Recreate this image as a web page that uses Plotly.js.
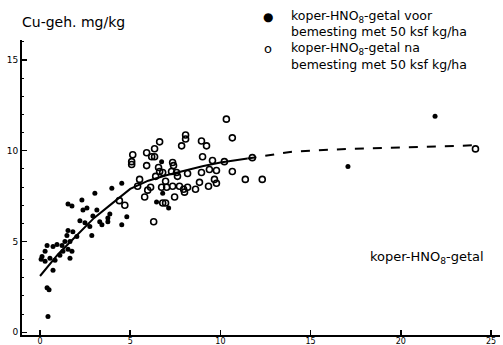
<!DOCTYPE html>
<html><head><meta charset="utf-8">
<script src="https://cdn.plot.ly/plotly-3.0.1.min.js"></script>
<style>html,body{margin:0;padding:0;background:#fff}</style>
</head><body><div id="chart" style="width:503px;height:345px"></div>
<script>
// filled dots: koper-HNO3-getal voor bemesting
const voorX = [2.21,2.49,3.31,3.76,4.53,1.55,1.82,1.49,2.04,2.87,1.38,1.66,0.39,0.72,0.94,1.22,0.28,0.11,0.06,0.28,0.55,0.83,1.10,1.27,1.55,1.77,1.66,0.72,0.39,0.50,0.44,
  1.55,1.77,2.32,3.04,3.98,4.53,2.38,2.60,3.15,3.87,3.76,4.81,2.93,3.43,2.76,
  6.74,6.46,7.13,6.80,17.07,21.9];
const voorY = [6.14,6.03,6.09,6.09,5.92,5.60,5.54,5.33,5.27,5.33,5.00,5.00,4.78,4.73,4.84,4.78,4.46,4.18,4.02,3.91,4.08,3.97,4.24,4.46,4.57,4.46,4.08,3.42,2.45,2.34,0.87,
  7.07,6.96,7.28,7.66,7.93,8.21,6.74,6.85,6.74,6.52,6.30,6.36,6.41,5.92,5.82,
  9.40,7.17,6.85,7.66,9.13,11.9];
// open circles: koper-HNO3-getal na bemesting
const naX = [10.33,10.66,8.07,8.07,7.85,8.95,9.23,6.63,6.35,5.91,6.19,6.35,5.14,5.08,5.08,5.91,7.35,7.40,9.01,9.56,10.22,9.39,9.78,10.66,8.95,8.18,7.57,7.29,7.62,6.57,6.63,6.80,6.41,5.52,5.41,6.13,5.97,5.80,6.74,6.96,7.02,7.35,7.73,7.96,8.01,8.18,8.62,8.84,9.34,9.67,9.78,7.46,6.80,6.96,6.30,11.38,12.32,11.77,24.14,4.4,4.7];
const naY = [11.74,10.71,10.87,10.65,10.27,10.54,10.27,10.49,10.11,9.89,9.67,9.67,9.78,9.40,9.24,9.18,9.35,9.18,9.67,9.46,9.40,8.97,8.91,8.86,8.80,8.75,8.80,8.86,8.59,9.08,8.86,8.80,8.59,8.42,8.04,7.99,7.83,7.45,7.99,8.32,7.99,8.04,8.04,7.88,7.72,7.99,7.88,8.26,8.04,8.42,8.21,7.45,7.12,7.12,6.09,8.42,8.42,9.62,10.1,7.25,7.0];
// fitted curve (solid part, then dashed extrapolation)
const curveX = [0,1,2,3,4,5,6,7,8,9,10,11,11.5];
const curveY = [3.1,4.3,5.3,6.3,7.1,7.9,8.35,8.65,8.9,9.15,9.35,9.5,9.57];
const dashX = [11.5,14,17,20,24.1];
const dashY = [9.57,9.95,10.1,10.2,10.3];
const xTicks = [0,5,10,15,20,25];
const yTicks = [0,5,10,15];
const titleText = 'Cu-geh. mg/kg';
const xLabel = 'koper-HNO<sub>8</sub>-getal';
const legendLines = [
  ['koper-HNO<sub>8</sub>-getal voor','bemesting met 50 ksf kg/ha'],
  ['koper-HNO<sub>8</sub>-getal na','bemesting met 50 ksf kg/ha']
];

const W=503,H=345,L=22,R=3,T=40,B=10;
const px=(p)=>(p-L)/(W-L-R), py=(p)=>(H-B-p)/(H-T-B);
const F='"DejaVu Sans", sans-serif';

const traces = [
  {x:curveX,y:curveY,mode:'lines',line:{color:'#000',width:2},hoverinfo:'skip'},
  {x:dashX,y:dashY,mode:'lines',line:{color:'#000',width:2,dash:'dash'},hoverinfo:'skip'},
  {x:voorX,y:voorY,mode:'markers',marker:{color:'#000',size:5,symbol:'circle'}},
  {x:naX,y:naY,mode:'markers',marker:{color:'#000',size:6,symbol:'circle-open',line:{width:1.6,color:'#000'}}}
];
const ann = [];
ann.push({xref:'paper',yref:'paper',x:px(20),y:py(22),xanchor:'left',yanchor:'middle',text:titleText,showarrow:false,font:{family:F,size:14,color:'#000'}});
ann.push({xref:'paper',yref:'paper',x:px(486),y:py(257),xanchor:'right',yanchor:'middle',text:xLabel,showarrow:false,font:{family:F,size:13,color:'#000'}});
const legY=[[17,32],[49,64]], legSym=['●','o'];
legendLines.forEach((lines,i)=>{
  ann.push({xref:'paper',yref:'paper',x:px(268),y:py(legY[i][0]),xanchor:'center',yanchor:'middle',text:legSym[i],showarrow:false,font:{family:F,size:i?13:12,color:'#000'}});
  lines.forEach((t,j)=>ann.push({xref:'paper',yref:'paper',x:px(289),y:py(legY[i][j]),xanchor:'left',yanchor:'middle',text:t,showarrow:false,font:{family:F,size:12.5,color:'#000'}}));
});
const layout = {
  width:W,height:H,margin:{l:L,r:R,t:T,b:B,pad:0},
  paper_bgcolor:'#fff',plot_bgcolor:'#fff',showlegend:false,
  xaxis:{range:[-1,25.5],showgrid:false,zeroline:false,showline:true,linecolor:'#000',linewidth:2,
    tickvals:xTicks,ticktext:xTicks.map(String),ticks:'inside',ticklen:5,tickwidth:1.5,tickcolor:'#000',
    ticklabelstandoff:-3,
    tickfont:{family:'DejaVu Sans',size:8,color:'#000'}},
  yaxis:{range:[-0.15,16.1],showgrid:false,zeroline:false,showline:true,linecolor:'#000',linewidth:2,
    tickvals:yTicks,ticktext:yTicks.map(String),ticks:'inside',ticklen:5,tickwidth:1.5,tickcolor:'#000',
    minor:{ticks:'inside',tickvals:[1,2,3,4,6,7,8,9,11,12,13,14,16],ticklen:2,tickcolor:'#000',tickwidth:1},
    tickfont:{family:'DejaVu Sans',size:9,color:'#000'}},
  annotations:ann
};
Plotly.newPlot('chart',traces,layout,{staticPlot:true,displayModeBar:false});
</script></body></html>
